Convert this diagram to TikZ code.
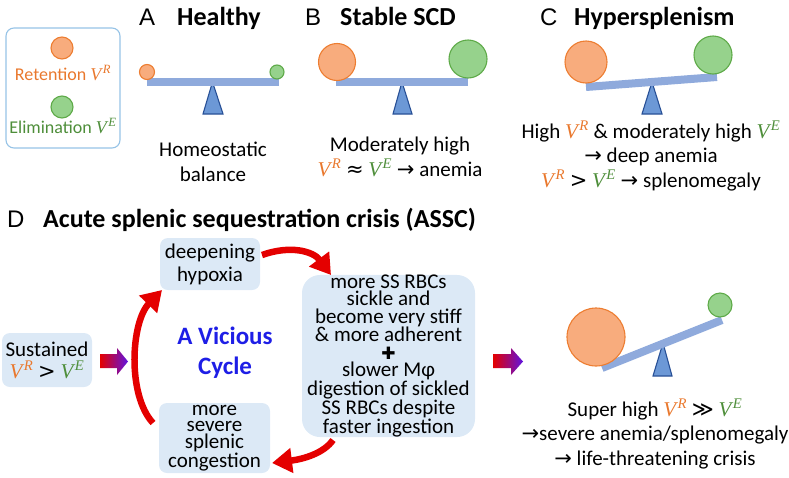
\documentclass[tikz,border=0pt]{standalone}
\usepackage{fontspec}
\setmainfont{Carlito}
\newfontfamily\mathv{Liberation Serif}
\newfontfamily\symf{DejaVu Sans}
\newfontfamily\lettf{Liberation Sans}
\usetikzlibrary{arrows.meta}
\definecolor{orF}{RGB}{248,172,125}
\definecolor{orS}{RGB}{237,125,49}
\definecolor{grF}{RGB}{150,210,140}
\definecolor{grS}{RGB}{94,170,72}
\definecolor{orT}{RGB}{233,120,45}
\definecolor{grT}{RGB}{78,142,58}
\definecolor{barC}{RGB}{143,170,220}
\definecolor{triF}{RGB}{108,152,214}
\definecolor{triS}{RGB}{40,80,150}
\definecolor{boxF}{RGB}{220,233,246}
\definecolor{legS}{RGB}{150,195,230}
\definecolor{redA}{RGB}{228,0,0}
\definecolor{purA}{RGB}{95,20,225}
\definecolor{cycB}{RGB}{30,30,230}
\newcommand{\VRr}{{\color{orT}\mathv\itshape V\kern1.5pt\textsuperscript{R}}}
\newcommand{\VEe}{{\color{grT}\mathv\itshape V\kern1.5pt\textsuperscript{E}}}
\newcommand{\rar}{{\symf →}}
\newcommand{\fsn}{\fontsize{21}{24.5}\selectfont}
\begin{document}
\begin{tikzpicture}[x=1pt,y=-1pt,
  orb/.style={circle,draw=orS,fill=orF,line width=1.1pt,inner sep=0pt},
  grb/.style={circle,draw=grS,fill=grF,line width=1.1pt,inner sep=0pt},
  bar/.style={barC,line width=8pt},
  tri/.style={draw=triS,fill=triF,line width=1.1pt,line join=miter},
  ttl/.style={anchor=base west,inner sep=0pt,font=\bfseries\fontsize{26}{26}\selectfont},
  letr/.style={anchor=base west,inner sep=0pt,font=\lettf\fontsize{24}{24}\selectfont},
  txt/.style={inner sep=0pt,align=center,font=\fsn},
  bbox/.style={fill=boxF,rounded corners=8pt,inner sep=0pt,align=center},
  redarr/.style={redA,line width=6.5pt,-{Triangle[length=20pt,width=24pt]}}
]
\useasboundingbox (0,0) rectangle (789,477);

% legend
\node[draw=legS,line width=1.1pt,rounded corners=8pt,minimum width=114pt,minimum height=120pt,inner sep=0pt] (leg) at (63,88) {};
\node[orb,minimum size=22pt] (lor) at (62,48) {};
\node[txt,font=\fontsize{18}{20}\selectfont,text=orT] (lret) at (63,73) {Retention \VRr};
\node[grb,minimum size=22pt] (lgr) at (62,107) {};
\node[txt,font=\fontsize{18}{20}\selectfont,text=grT] (lelim) at (63,126) {Elimination \VEe};

% A
\node[letr] (tA) at (139,25) {A};
\node[ttl] (hA) at (177,25) {Healthy};
\draw[tri] (203,114) -- (212.5,82) -- (223,114) -- cycle;
\draw[bar] (147,82) -- (279,82);
\node[orb,minimum size=15pt] (aor) at (147,72) {};
\node[grb,minimum size=14pt] (agr) at (277,72) {};
\node[txt] (atx) at (213,162) {Homeostatic\\balance};

% B
\node[letr] (tB) at (305,25) {B};
\node[ttl] (hB) at (340,25) {Stable SCD};
\draw[tri] (393,114) -- (402,82) -- (412,114) -- cycle;
\draw[bar] (336,82) -- (468,82);
\node[orb,minimum size=37pt] (bor) at (337,62) {};
\node[grb,minimum size=38pt] (bgr) at (468,59) {};
\node[txt] (btx) at (400,157) {Moderately high\\\VRr{} {\symf ≈} \VEe{} \rar{} anemia};

% C
\node[letr] (tC) at (540,25) {C};
\node[ttl] (hC) at (574,25) {Hypersplenism};
\draw[tri] (642,114) -- (652,82) -- (662,114) -- cycle;
\draw[bar] (586,87) -- (717,77);
\node[orb,minimum size=42pt] (cor) at (586,62) {};
\node[grb,minimum size=38pt] (cgr) at (713,55) {};
\node[txt] (ctx) at (651,156) {High \VRr{} \& moderately high \VEe\\\rar{} deep anemia\\\VRr{} {\symf >} \VEe{} \rar{} splenomegaly};

% D title
\node[letr] (tD) at (7,227) {D};
\node[ttl] (hD) at (43,227) {Acute splenic sequestration crisis (ASSC)};

% boxes
\node[bbox,minimum width=100pt,minimum height=52pt,font=\fontsize{21}{23}\selectfont] (hyp) at (210,264) {deepening\\hypoxia};
\node[bbox,minimum width=90pt,minimum height=54pt,font=\fontsize{21}{22}\selectfont] (sus) at (47,360) {Sustained\\\VRr{} {\symf >} \VEe};
\node[bbox,minimum width=111pt,minimum height=70pt,font=\fontsize{21}{16.8}\selectfont] (sev) at (214.5,438) {more\\severe\\splenic\\congestion};
\node[bbox,rounded corners=18pt,minimum width=173pt,minimum height=162pt,font=\fontsize{21}{17.2}\selectfont] (mac) at (388.5,356)
  {more SS RBCs\\sickle and\\become very stiff\\\& more adherent\\{\symf\fontsize{17}{17}\selectfont ✚}\\slower Mφ\\digestion of sickled\\SS RBCs despite\\faster ingestion};

\node[txt,font=\bfseries\fontsize{25}{30}\selectfont,text=cycB] (cyc) at (225,353) {A Vicious\\Cycle};

% red cycle arrows
\coordinate (l0) at (153,423);
\coordinate (l1) at (162,290);
\draw[redarr] (l0) .. controls (127,395) and (131,322) .. (l1);
\coordinate (t0) at (262,255);
\coordinate (t1) at (331,275);
\draw[redarr] (t0) .. controls (290,245) and (313,251) .. (t1);
\coordinate (b0) at (333,440);
\coordinate (b1) at (272,463);
\draw[redarr] (b0) .. controls (324,453) and (304,459) .. (b1);

% gradient block arrows
\shade[left color=redA,right color=purA] (100,354) -- (117,354) -- (117,348) -- (128,361.5) -- (117,375) -- (117,368) -- (100,368) -- cycle;
\shade[left color=redA,right color=purA] (493,354) -- (511,354) -- (511,348) -- (523,361.5) -- (511,375) -- (511,368) -- (493,368) -- cycle;

% E
\draw[tri] (653,376) -- (663,343) -- (672,376) -- cycle;
\draw[bar] (602,368) -- (722,320);
\node[orb,minimum size=58pt] (eor) at (596,337) {};
\node[grb,minimum size=24pt] (egr) at (720,305) {};
\node[txt] (etx) at (655,434) {Super high \VRr{} {\symf ≫} \VEe\\\rar{}severe anemia/splenomegaly\\\rar{} life-threatening crisis};
\end{tikzpicture}
\end{document}
